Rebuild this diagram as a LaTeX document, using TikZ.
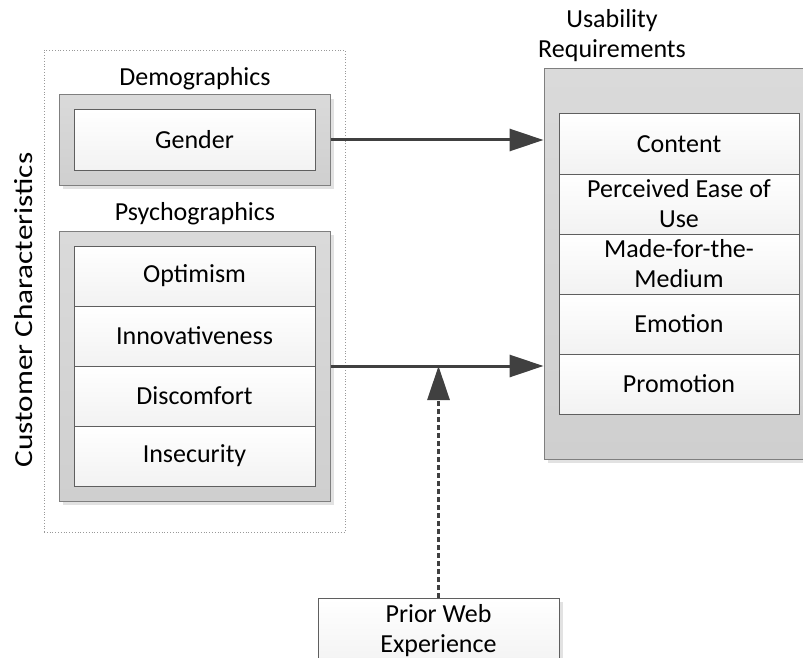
\documentclass[tikz,border=0pt]{standalone}
\usepackage{fontspec}
\setmainfont{Carlito}
\usetikzlibrary{arrows.meta,positioning}
\definecolor{cont}{HTML}{CFCFCF}
\definecolor{contTop}{HTML}{DADADA}
\definecolor{contLine}{HTML}{7F7F7F}
\definecolor{cellLine}{HTML}{5F5F5F}
\definecolor{shad}{HTML}{E2E2E2}
\definecolor{arr}{HTML}{404040}
\tikzset{
  container/.style={draw=contLine, line width=1pt, top color=contTop, bottom color=cont, inner sep=0pt},
  cell/.style={draw=cellLine, line width=1pt, top color=white, bottom color=gray!10, inner sep=0pt, minimum width=241pt, minimum height=60pt, font=\fontsize{26}{30}\selectfont, align=center},
  lbl/.style={font=\fontsize{26}{30}\selectfont, align=center, inner sep=0pt},
  mainarrow/.style={draw=arr, line width=3pt, -{Triangle[length=34pt,width=22pt]}},
  dotarrow/.style={draw=arr, line width=3pt, dash pattern=on 5pt off 3pt, -{Triangle[length=34pt,width=22pt]}}
}
\begin{document}
\begin{tikzpicture}[x=1pt,y=-1pt]
\useasboundingbox (0,0) rectangle (803,658);
% outer dotted box
\node[draw=gray!80, dotted, line width=0.8pt, minimum width=301pt, minimum height=482pt, inner sep=0pt] (outer) at (194.5,291) {};
\node[lbl, rotate=90] (cc) at (24,310) {\scalebox{1.2}[1]{Customer Characteristics}};
% Demographics
\node[lbl] (demolbl) at (195,79) {Demographics};
\fill[shad] (63,99) rectangle (334,189);
\node[container, minimum width=271pt, minimum height=90pt] (demo) at (194.5,140) {};
\node[cell] (gender) at (194.5,140) {Gender};
% Psychographics
\node[lbl] (psylbl) at (195,214) {Psychographics};
\fill[shad] (63,235) rectangle (334,505);
\node[container, minimum width=271pt, minimum height=270pt] (psych) at (194.5,366) {};
\node[cell] (opt) at (194.5,276) {Optimism};
\node[cell] (inn) at (194.5,336) {Innovativeness};
\node[cell] (dis) at (194.5,396) {Discomfort};
\node[cell] (ins) at (194.5,456) {Insecurity};
% Usability
\node[lbl] (uslbl) at (612,36) {Usability\\Requirements};
\fill[shad] (548,73) rectangle (810,463);
\node[container, minimum width=262pt, minimum height=390pt] (usab) at (675,264) {};
\node[cell, minimum width=240pt] (content) at (679,144) {Content};
\node[cell, minimum width=240pt] (peou) at (679,204) {Perceived Ease of\\Use};
\node[cell, minimum width=240pt] (mftm) at (679,264) {Made-for-the-\\Medium};
\node[cell, minimum width=240pt] (emo) at (679,324) {Emotion};
\node[cell, minimum width=240pt] (promo) at (679,384) {Promotion};
% Prior web experience
\fill[shad] (322,602) rectangle (563,672);
\node[cell, minimum width=241pt, minimum height=70pt, anchor=north] (prior) at (438.5,598) {};
\node[lbl] (priortxt) at (438.5,631) {Prior Web\\Experience};
% arrows
\draw[mainarrow] (demo.east) -- (usab.west |- demo.east);
\draw[mainarrow] (psych.east) -- (usab.west |- psych.east);
\draw[dotarrow] (prior.north) -- (prior.north |- psych.east);
\end{tikzpicture}
\end{document}
